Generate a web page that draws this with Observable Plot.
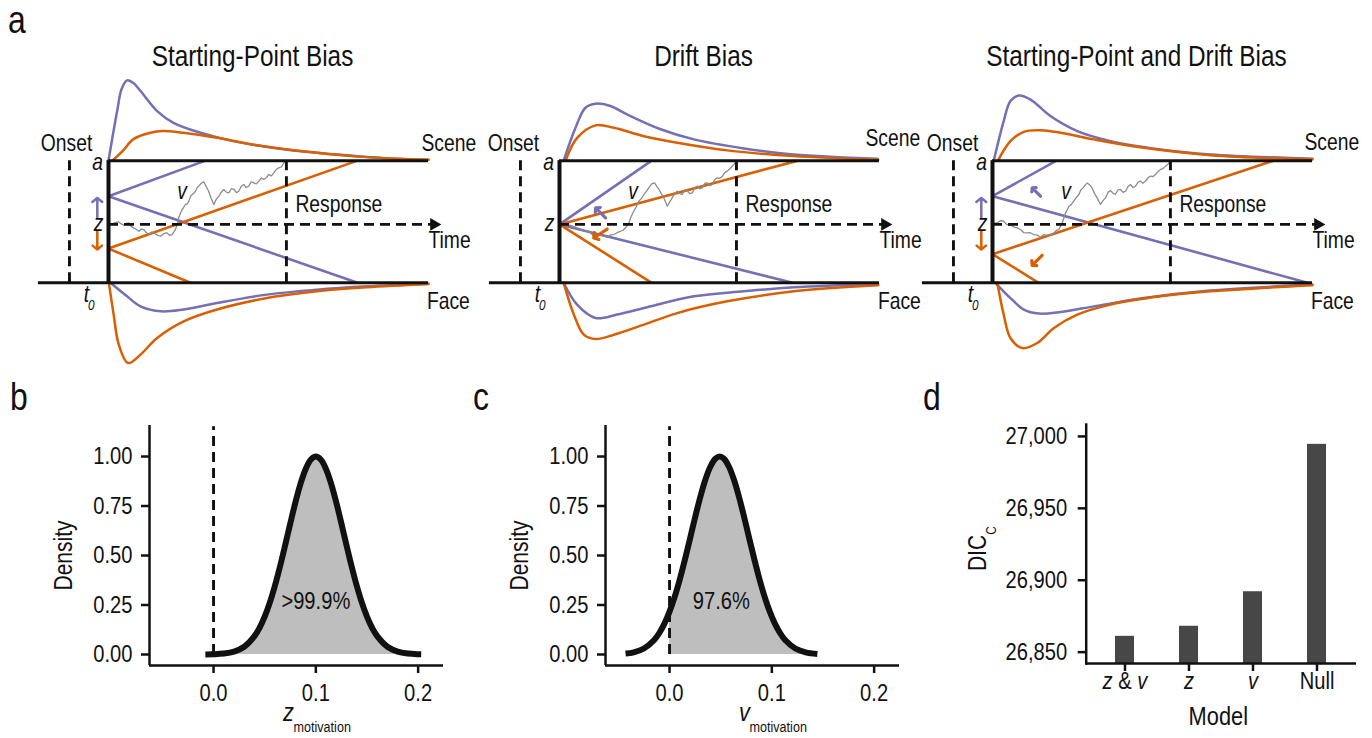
<!DOCTYPE html>
<html><head><meta charset="utf-8">
<script src="https://cdn.jsdelivr.net/npm/d3@7"></script>
<script src="https://cdn.jsdelivr.net/npm/@observablehq/plot@0.6"></script>
<style>
html,body{margin:0;padding:0;background:#fff;overflow:hidden;}
#fig{position:relative;width:1372px;height:738px;font-family:"Liberation Sans Narrow","Arial Narrow","Liberation Sans",Arial,sans-serif;color:#111;}
.letter{position:absolute;font-size:38px;line-height:38px;transform:scaleX(0.84);transform-origin:left top;}
</style></head>
<body><div id="fig"></div>
<script>
// ---------------- DATA ----------------
// Panel a: diffusion-model schematics (time in units of the drawn time window, evidence 0 = Face bound, 1 = Scene bound)
const panelTitles = ["Starting-Point Bias", "Drift Bias", "Starting-Point and Drift Bias"];
const zStartA = [0.709, 0.478, 0.709];   // purple condition starting point
const zStartB = [0.280, 0.478, 0.234];   // orange condition starting point
const upperHitA = [0.303, 0.288, 0.200]; // time where purple drift line meets Scene bound
const lowerHitA = [0.778, 0.728, 0.984];
const upperHitB = [0.778, 0.744, 0.878];
const lowerHitB = [0.256, 0.288, 0.144];
const onsetTime = -0.122;
const responseTime = [0.556, 0.553, 0.556];
const zLevel = 0.478;
const faceBoundStart = -0.219;

// RT distributions [time, height beyond bound]
const upperA = [
  [[0,0],[0.027,0.406],[0.041,0.586],[0.058,0.657],[0.078,0.635],[0.1,0.57],[0.152,0.406],[0.203,0.31],[0.288,0.228],[0.39,0.16],[0.547,0.094],[0.703,0.053],[0.86,0.02],[1,0.007]],
  [[0.013,0],[0.05,0.269],[0.081,0.433],[0.113,0.466],[0.159,0.447],[0.211,0.379],[0.316,0.257],[0.42,0.174],[0.576,0.1],[0.732,0.05],[0.994,0.015]],
  [[0.004,0],[0.035,0.324],[0.056,0.488],[0.082,0.533],[0.119,0.5],[0.181,0.365],[0.265,0.242],[0.369,0.16],[0.525,0.092],[0.681,0.051],[1,0.015]]
];
const upperB = [
  [[0.012,0],[0.044,0.078],[0.078,0.176],[0.131,0.228],[0.168,0.242],[0.234,0.228],[0.34,0.187],[0.444,0.135],[0.6,0.078],[0.756,0.037],[1,0.007]],
  [[0.019,0],[0.055,0.186],[0.113,0.289],[0.17,0.269],[0.264,0.2],[0.368,0.146],[0.524,0.084],[0.732,0.037],[0.996,0.007]],
  [[0.017,0],[0.056,0.16],[0.098,0.236],[0.15,0.248],[0.213,0.228],[0.317,0.174],[0.473,0.105],[0.681,0.045],[1,0.01]]
];
const lowerA = [
  [[0.006,0],[0.058,0.111],[0.1,0.193],[0.164,0.234],[0.234,0.219],[0.339,0.166],[0.495,0.097],[0.651,0.056],[0.807,0.029],[1,0.007]],
  [[0.013,0],[0.055,0.179],[0.113,0.288],[0.18,0.26],[0.264,0.207],[0.42,0.111],[0.576,0.07],[0.732,0.037],[0.996,0.01]],
  [[0.009,0],[0.056,0.125],[0.098,0.219],[0.145,0.252],[0.213,0.239],[0.317,0.193],[0.473,0.125],[0.681,0.064],[1,0.015]]
];
const lowerB = [
  [[0.001,0],[0.016,0.259],[0.032,0.505],[0.061,0.657],[0.1,0.588],[0.152,0.452],[0.235,0.316],[0.339,0.219],[0.495,0.125],[0.651,0.07],[0.807,0.037],[1,0.01]],
  [[0.013,0],[0.045,0.261],[0.076,0.425],[0.113,0.461],[0.17,0.425],[0.264,0.343],[0.368,0.248],[0.524,0.152],[0.732,0.07],[0.996,0.02]],
  [[0.015,0],[0.035,0.261],[0.056,0.452],[0.093,0.534],[0.14,0.493],[0.192,0.37],[0.265,0.261],[0.369,0.179],[0.525,0.111],[0.681,0.07],[1,0.02]]
];

// example evidence trajectories [time, evidence]
const walks = [
  [[0,0.478],[0.006,0.477],[0.018,0.49],[0.032,0.498],[0.04,0.482],[0.048,0.471],[0.056,0.486],[0.063,0.49],[0.071,0.462],[0.079,0.449],[0.087,0.436],[0.095,0.422],[0.103,0.441],[0.11,0.436],[0.118,0.411],[0.126,0.395],[0.134,0.414],[0.142,0.408],[0.152,0.39],[0.1625,0.381],[0.172,0.402],[0.183,0.408],[0.191,0.389],[0.199,0.395],[0.209,0.436],[0.215,0.477],[0.219,0.53],[0.223,0.559],[0.23,0.6],[0.235,0.618],[0.24,0.641],[0.246,0.645],[0.251,0.668],[0.257,0.71],[0.262,0.723],[0.267,0.735],[0.272,0.75],[0.277,0.78],[0.282,0.791],[0.29,0.815],[0.298,0.826],[0.305,0.79],[0.313,0.75],[0.321,0.69],[0.329,0.641],[0.337,0.685],[0.345,0.709],[0.352,0.74],[0.36,0.764],[0.368,0.742],[0.376,0.736],[0.384,0.77],[0.392,0.764],[0.4,0.738],[0.407,0.75],[0.415,0.79],[0.423,0.805],[0.43,0.78],[0.438,0.791],[0.446,0.826],[0.454,0.818],[0.462,0.81],[0.47,0.832],[0.478,0.858],[0.485,0.846],[0.493,0.86],[0.501,0.887],[0.509,0.875],[0.517,0.9],[0.525,0.93],[0.532,0.941],[0.54,0.948],[0.548,0.982],[0.556,0.996]],
  [[0,0.478],[0.008,0.482],[0.02,0.466],[0.034,0.471],[0.045,0.46],[0.055,0.449],[0.066,0.44],[0.076,0.422],[0.087,0.425],[0.097,0.408],[0.105,0.39],[0.1125,0.362],[0.12,0.385],[0.128,0.395],[0.138,0.38],[0.149,0.373],[0.16,0.392],[0.17,0.395],[0.18,0.41],[0.191,0.422],[0.199,0.43],[0.206,0.449],[0.212,0.47],[0.217,0.49],[0.222,0.53],[0.227,0.559],[0.233,0.59],[0.238,0.613],[0.243,0.64],[0.248,0.668],[0.256,0.69],[0.264,0.723],[0.272,0.75],[0.279,0.777],[0.288,0.81],[0.297,0.818],[0.304,0.79],[0.311,0.764],[0.318,0.73],[0.326,0.695],[0.337,0.627],[0.344,0.66],[0.352,0.695],[0.36,0.73],[0.368,0.75],[0.376,0.73],[0.384,0.723],[0.391,0.76],[0.399,0.755],[0.407,0.73],[0.415,0.736],[0.423,0.78],[0.431,0.791],[0.438,0.77],[0.446,0.777],[0.454,0.815],[0.462,0.818],[0.47,0.795],[0.478,0.805],[0.485,0.845],[0.493,0.859],[0.501,0.855],[0.509,0.873],[0.516,0.9],[0.524,0.914],[0.535,0.94],[0.545,0.969],[0.553,0.996]],
  [[0,0.478],[0.008,0.49],[0.015,0.49],[0.025,0.51],[0.035,0.504],[0.043,0.48],[0.051,0.471],[0.059,0.47],[0.067,0.455],[0.077,0.45],[0.0875,0.436],[0.098,0.41],[0.108,0.408],[0.118,0.41],[0.129,0.395],[0.14,0.39],[0.15,0.373],[0.16,0.395],[0.171,0.389],[0.182,0.39],[0.192,0.408],[0.2,0.43],[0.207,0.436],[0.212,0.46],[0.218,0.49],[0.223,0.53],[0.228,0.572],[0.234,0.6],[0.239,0.627],[0.246,0.64],[0.254,0.668],[0.262,0.7],[0.27,0.723],[0.276,0.76],[0.283,0.777],[0.29,0.8],[0.296,0.818],[0.304,0.8],[0.311,0.777],[0.319,0.73],[0.327,0.695],[0.3375,0.641],[0.345,0.67],[0.353,0.695],[0.361,0.74],[0.369,0.755],[0.376,0.735],[0.384,0.723],[0.392,0.76],[0.4,0.764],[0.408,0.74],[0.416,0.75],[0.424,0.79],[0.431,0.805],[0.439,0.78],[0.447,0.791],[0.455,0.825],[0.4625,0.832],[0.47,0.815],[0.478,0.832],[0.486,0.86],[0.494,0.873],[0.502,0.87],[0.509,0.887],[0.517,0.91],[0.525,0.928],[0.533,0.935],[0.541,0.955],[0.548,0.97],[0.556,0.996]]
];

// small bias arrows [x1, y1, x2, y2]
const driftArrowsA = [null, [0.144, 0.532, 0.113, 0.613], [0.15, 0.709, 0.124, 0.777]];
const driftArrowsB = [null, [0.149, 0.44, 0.107, 0.367], [0.155, 0.225, 0.124, 0.143]];
const startArrowA = [[-0.035, 0.537, -0.035, 0.695], null, [-0.035, 0.537, -0.035, 0.695]];
const startArrowB = [[-0.035, 0.422, -0.035, 0.272], null, [-0.035, 0.422, -0.035, 0.272]];

// Panel b & c: posterior densities (scaled to max 1)
const zMotivation = [-0.008,0,0.01,0.02,0.03,0.04,0.045,0.05,0.055,0.06,0.065,0.07,0.075,0.08,0.085,0.09,0.095,0.1,0.105,0.11,0.115,0.12,0.125,0.13,0.135,0.14,0.145,0.15,0.155,0.16,0.17,0.18,0.19,0.2,0.203];
const zDensity    = [0.0005,0.0013,0.0047,0.0145,0.039,0.0926,0.135,0.1915,0.262,0.347,0.445,0.5515,0.6615,0.7676,0.862,0.936,0.9836,1,0.9836,0.936,0.862,0.7676,0.6615,0.5515,0.445,0.347,0.262,0.1915,0.135,0.0926,0.039,0.0145,0.0047,0.0013,0.0009];
const vMotivation = [-0.043,-0.035,-0.025,-0.015,-0.01,-0.005,0,0.005,0.01,0.015,0.02,0.025,0.03,0.035,0.04,0.045,0.049,0.053,0.058,0.063,0.068,0.073,0.078,0.083,0.088,0.093,0.098,0.103,0.108,0.113,0.123,0.133,0.1445];
const vDensity    = [0.0045,0.0111,0.0304,0.0734,0.1086,0.1557,0.2163,0.2909,0.379,0.4786,0.5848,0.6927,0.7943,0.8825,0.9496,0.9898,1,0.9898,0.9496,0.8825,0.7943,0.6927,0.5848,0.4786,0.379,0.2909,0.2163,0.1557,0.1086,0.0734,0.0304,0.0111,0.003];
const densityTicks = [0, 0.25, 0.5, 0.75, 1];
const paramTicks = [0, 0.1, 0.2];
const zLabel = ">99.9%", vLabel = "97.6%";

// Panel d: model comparison
const models = ["z & v", "z", "v", "Null"];
const dicValues = [26861, 26868, 26892, 26994.5];
const dicTicks = [26850, 26900, 26950, 27000];
const dicDomain = [26842.1, 27008.3];

// ---------------- DRAWING ----------------
const purple = "#7570b3", orange = "#d95f02", ink = "#111111";
const FONT = '"Liberation Sans Narrow","Arial Narrow","Liberation Sans",Arial,sans-serif';
const NARROW = 0.84; // horizontal condensing of text (reference uses a condensed face)
const fig = document.getElementById("fig");
function place(el, left, top) {
  el.style.position = "absolute";
  el.style.left = left + "px";
  el.style.top = top + "px";
  fig.appendChild(el);
}
const baseStyle = (size) => ({fontFamily: FONT, fontSize: size, overflow: "visible", background: "transparent", color: ink});
const dash = {stroke: ink, strokeWidth: 2.9, strokeDasharray: "10,6"};
const seg = (a) => a ? [{x1: a[0], y1: a[1], x2: a[2], y2: a[3]}] : [];
// label placement per schematic
const onsetLabelX = [-0.131, -0.144, -0.125];
const sceneLabelX = [0.978, 0.956, 0.975];
const sceneLabelY = [1.143, 1.177, 1.146];

function diagram(p) {
  const up = (arr) => arr.map(([t, h]) => ({t, y: 1 + h}));
  const lo = (arr) => arr.map(([t, h]) => ({t, y: -h}));
  const driftA = [{x1: 0, y1: zStartA[p], x2: upperHitA[p], y2: 1}, {x1: 0, y1: zStartA[p], x2: lowerHitA[p], y2: 0}];
  const driftB = [{x1: 0, y1: zStartB[p], x2: upperHitB[p], y2: 1}, {x1: 0, y1: zStartB[p], x2: lowerHitB[p], y2: 0}];
  const walk = walks[p].map(([t, y]) => ({t, y}));
  const curveOpt = {x: "t", y: "y", strokeWidth: 2.5, curve: "catmull-rom"};
  const arrowOpt = {x1: "x1", y1: "y1", x2: "x2", y2: "y2", strokeWidth: 3.2, headLength: 7, headAngle: 100};
  const T = (txt, o) => Plot.text([txt], {text: d => d, fontSize: 23, fill: ink, ...o});
  return Plot.plot({
    width: 448, height: 342, margin: 0,
    style: baseStyle("23px"),
    x: {domain: [-0.3, 1.1], axis: null},
    y: {domain: [-0.8, 2.0], axis: null},
    marks: [
      Plot.line(up(upperA[p]), {...curveOpt, stroke: purple}),
      Plot.line(lo(lowerA[p]), {...curveOpt, stroke: purple}),
      Plot.line(up(upperB[p]), {...curveOpt, stroke: orange}),
      Plot.line(lo(lowerB[p]), {...curveOpt, stroke: orange}),
      Plot.link(driftA, {x1: "x1", y1: "y1", x2: "x2", y2: "y2", stroke: purple, strokeWidth: 2.6}),
      Plot.link(driftB, {x1: "x1", y1: "y1", x2: "x2", y2: "y2", stroke: orange, strokeWidth: 2.6}),
      Plot.line(walk, {x: "t", y: "y", stroke: "#8c8c8c", strokeWidth: 1.3}),
      Plot.ruleX([onsetTime], {y1: 0, y2: 1, ...dash}),
      Plot.ruleX([responseTime[p]], {y1: 0, y2: 1, ...dash}),
      Plot.ruleY([zLevel], {x1: 0, x2: 1.012, ...dash}),
      Plot.dot([{t: 1.017, y: zLevel}], {x: "t", y: "y", symbol: "triangle", rotate: 90, r: 4.8, fill: ink, stroke: null}),
      Plot.ruleY([1], {x1: 0, x2: 1, stroke: ink, strokeWidth: 3}),
      Plot.ruleY([0], {x1: faceBoundStart, x2: 1, stroke: ink, strokeWidth: 3}),
      Plot.ruleX([0], {y1: 0, y2: 1, stroke: ink, strokeWidth: 4}),
      Plot.arrow(seg(driftArrowsA[p]), {...arrowOpt, stroke: purple}),
      Plot.arrow(seg(driftArrowsB[p]), {...arrowOpt, stroke: orange}),
      Plot.arrow(seg(startArrowA[p]), {...arrowOpt, stroke: purple, strokeWidth: 2.5, headLength: 6}),
      Plot.arrow(seg(startArrowB[p]), {...arrowOpt, stroke: orange, strokeWidth: 2.5, headLength: 6}),
      T(panelTitles[p], {x: 0.45, y: 1.775, lineAnchor: "bottom", fontSize: 29}),
      T("Onset", {x: onsetLabelX[p], y: 1.14}),
      T("Scene", {x: sceneLabelX[p], y: sceneLabelY[p], textAnchor: "start"}),
      T("Time", {x: 1.0, y: 0.342, textAnchor: "start"}),
      T("Face", {x: 0.995, y: -0.155, textAnchor: "start"}),
      T("Response", {x: responseTime[p] + 0.028, y: 0.643, textAnchor: "start"}),
      T("a", {x: -0.034, y: 0.985, fontStyle: "italic"}),
      T("z", {x: -0.031, y: 0.484, fontStyle: "italic"}),
      T("v", {x: 0.23, y: 0.745, fontStyle: "italic"}),
      T("t", {x: -0.069, y: -0.1, fontStyle: "italic"}),
      T("0", {x: -0.054, y: -0.19, fontStyle: "italic", fontSize: 14})
    ]
  });
}
const diagramLeft = [12, 463, 896];
for (let p = 0; p < 3; p++) place(diagram(p), diagramLeft[p], 37.5);

function densityPanel(xs, ds, o) {
  const data = xs.map((x, i) => ({x, d: ds[i]}));
  return Plot.plot({
    width: o.width, height: 338, marginLeft: o.ml, marginRight: o.mr, marginTop: 25, marginBottom: 73,
    style: baseStyle("24px"),
    x: {domain: [-0.0626, 0.2248]},
    y: {domain: [-0.0556, 1.1566]},
    marks: [
      Plot.areaY(data.filter(d => d.x >= 0), {x: "x", y: "d", fill: "#bebebe", curve: "catmull-rom"}),
      Plot.ruleX([0], {y1: 0, y2: 1.15, ...dash}),
      Plot.line(data, {x: "x", y: "d", stroke: ink, strokeWidth: 6, curve: "catmull-rom", strokeLinecap: "butt"}),
      Plot.ruleX([-0.0626], {stroke: ink, strokeWidth: 2.5}),
      Plot.ruleY([-0.0556], {stroke: ink, strokeWidth: 2.5}),
      Plot.axisY({ticks: densityTicks, tickFormat: d3.format(".2f"), tickSize: 8, tickPadding: 9, strokeWidth: 2.5, label: null, fill: ink}),
      Plot.axisX({ticks: paramTicks, tickFormat: d3.format(".1f"), tickSize: 8, tickPadding: 10, strokeWidth: 2.5, label: null, fill: ink}),
      Plot.text([o.pct], {x: o.pctX, y: 0.27, text: d => d, fontSize: 24, fill: ink}),
      Plot.text(["Density"], {text: d => d, frameAnchor: "left", textAnchor: "middle", rotate: -90, dx: -86, dy: 10, fontSize: 25, fill: ink}),
      Plot.text([o.sym], {text: d => d, frameAnchor: "bottom", textAnchor: "middle", dx: -8, dy: 55, fontStyle: "italic", fontSize: 26, fill: ink}),
      Plot.text(["motivation"], {text: d => d, frameAnchor: "bottom", textAnchor: "start", dx: -3, dy: 66, fontSize: 15, fill: ink})
    ]
  });
}
place(densityPanel(zMotivation, zDensity, {width: 460, ml: 149, mr: 17, pct: zLabel, pctX: 0.1, sym: "z"}), 0, 400);
place(densityPanel(vMotivation, vDensity, {width: 460, ml: 145, mr: 21, pct: vLabel, pctX: 0.0507, sym: "v"}), 460, 400);

const dicData = models.map((m, i) => ({m, v: dicValues[i]}));
const dPlot = Plot.plot({
  width: 462, height: 338, marginLeft: 175.7, marginRight: 16, marginTop: 24, marginBottom: 75,
  style: baseStyle("24px"),
  x: {domain: models, paddingInner: 0.7, paddingOuter: 0.45},
  y: {domain: dicDomain},
  marks: [
    Plot.barY(dicData, {x: "m", y1: dicDomain[0], y2: "v", fill: "#474747"}),
    Plot.frame({anchor: "left", stroke: ink, strokeWidth: 2.5}),
    Plot.ruleY([dicDomain[0]], {stroke: ink, strokeWidth: 2.5}),
    Plot.axisY({ticks: dicTicks, tickFormat: d3.format(","), tickSize: 8, tickPadding: 11, strokeWidth: 2.5, label: null, fill: ink}),
    Plot.axisX({tickSize: 8, tickFormat: () => "", strokeWidth: 2.5, label: null}),
    Plot.text(models.slice(0, 3), {x: d => d, text: d => d, frameAnchor: "bottom", dy: 25, fontStyle: "italic", fill: ink}),
    Plot.text(models.slice(3), {x: d => d, text: d => d, frameAnchor: "bottom", dy: 25, fill: ink}),
    Plot.text(["Model"], {text: d => d, frameAnchor: "bottom", textAnchor: "middle", dx: -3, dy: 61, fontSize: 26, fill: ink}),
    Plot.text(["DIC"], {text: d => d, frameAnchor: "left", textAnchor: "middle", rotate: -90, dx: -108.7, dy: 9, fontSize: 25, fill: ink}),
    Plot.text(["C"], {text: d => d, frameAnchor: "left", textAnchor: "middle", rotate: -90, dx: -94.5, dy: -13.5, fontSize: 14, fill: ink})
  ]
});
place(dPlot, 910, 400);

// "z & v": keep the ampersand upright, the parameters italic
dPlot.querySelectorAll("text").forEach(t => {
  if (t.textContent === "z & v") {
    t.textContent = "";
    const parts = [["z", "italic"], [" & ", "normal"], ["v", "italic"]];
    parts.forEach(([s, st]) => {
      const ts = document.createElementNS("http://www.w3.org/2000/svg", "tspan");
      ts.setAttribute("font-style", st);
      ts.textContent = s;
      t.appendChild(ts);
    });
  }
});

// condense all chart text horizontally around its anchor (keeps em-based line offsets)
fig.querySelectorAll("svg text").forEach(t => {
  const tr = t.getAttribute("transform") || "";
  let tx = 0, ty = 0;
  const xa = t.getAttribute("x"), ya = t.getAttribute("y");
  if (xa !== null && xa !== "" && !isNaN(+xa)) { tx = +xa; t.removeAttribute("x"); }
  if (ya !== null && ya !== "" && !isNaN(+ya)) { ty = +ya; t.removeAttribute("y"); }
  t.setAttribute("transform", `${tr} translate(${tx},${ty}) scale(${NARROW},1)`);
});

// panel letters
[["a", 8, 1], ["b", 10, 378], ["c", 473, 378], ["d", 923, 378]].forEach(([t, l, tp]) => {
  const s = document.createElement("div");
  s.className = "letter"; s.textContent = t; s.style.left = l + "px"; s.style.top = tp + "px";
  fig.appendChild(s);
});
</script>
</body></html>
